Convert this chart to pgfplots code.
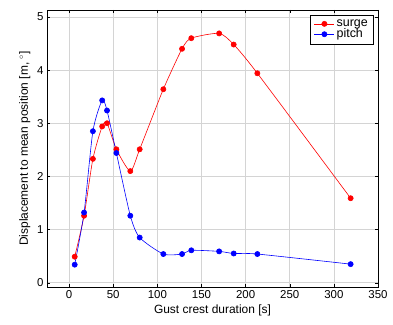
\documentclass[border=0pt]{standalone}
\usepackage{pgfplots}
\pgfplotsset{compat=1.18}
\usepackage{fontspec}
\setmainfont{Liberation Sans}
\begin{document}
\begin{tikzpicture}
\useasboundingbox (0,0) rectangle (393bp,325bp);
\begin{axis}[
  at={(47bp,38bp)}, anchor=south west,
  scale only axis,
  width=331bp, height=277bp,
  xmin=-25, xmax=350, ymin=-0.08, ymax=5.13,
  xtick={0,50,...,350}, ytick={0,1,...,5},
  grid=major,
  major grid style={draw=black!17, line width=0.6pt},
  tick align=inside,
  major tick length=3pt,
  tick style={black, line width=0.4pt},
  axis line style={black, line width=0.8pt},
  /pgf/number format/assume math mode=true,
  tick label style={font=\fontsize{11.5}{13}\selectfont},
  label style={font=\fontsize{12}{14}\selectfont},
  xlabel={Gust crest duration [s]},
  ylabel={Displacement to mean position [m, $^\circ$]},
  xlabel style={yshift=1pt},
  ylabel style={yshift=0pt},
  legend style={at={(rel axis cs:0.988,0.982)}, anchor=north east, draw=black, line width=0.6pt, font=\fontsize{12.5}{14}\selectfont, inner xsep=4pt, inner ysep=2.5pt, row sep=-3pt},
  legend cell align=left,
  legend image code/.code={\draw[#1] (0cm,0cm) -- (0.7cm,0cm); \draw[#1, only marks] plot coordinates {(0.35cm,0cm)};},
]
\addplot[red, line width=0.6pt, smooth, tension=0.4, mark=*, mark size=2.6pt, mark options={solid}] coordinates {
(6.4,0.49) (17,1.26) (27,2.33) (37.5,2.94) (43,3.00) (53.6,2.51) (69.4,2.10) (80,2.51) (106.8,3.64) (128,4.40) (138.5,4.60) (170,4.69) (186.5,4.48) (213.3,3.94) (319,1.59)
};
\addlegendentry{surge}
\addplot[blue, line width=0.6pt, smooth, tension=0.4, mark=*, mark size=2.6pt, mark options={solid}] coordinates {
(6.4,0.34) (17,1.32) (27,2.85) (37.5,3.43) (43,3.24) (53.6,2.44) (69.4,1.26) (80,0.85) (106.8,0.54) (128,0.54) (138.5,0.61) (170,0.59) (186.5,0.55) (213.3,0.54) (319,0.35)
};
\addlegendentry{pitch}
\end{axis}
\end{tikzpicture}
\end{document}
